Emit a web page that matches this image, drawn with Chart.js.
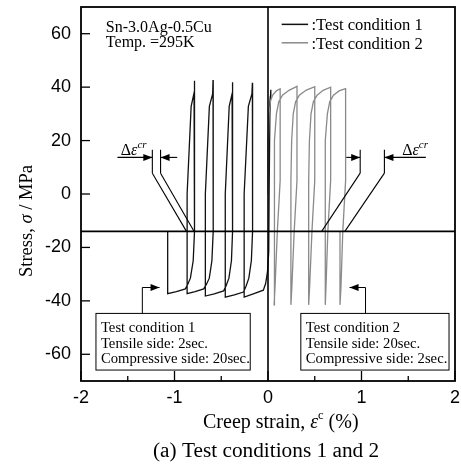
<!DOCTYPE html>
<html>
<head>
<meta charset="utf-8">
<script src="https://cdn.jsdelivr.net/npm/chart.js@4.4.1/dist/chart.umd.min.js"></script>
<style>
  html, body { margin: 0; padding: 0; background: #fff; }
  canvas { display: block; }
</style>
</head>
<body>
<canvas id="creepChart" width="461" height="468"></canvas>
<script>
// axis ticks
const xTicks = [-2, -1.5, -1, -0.5, 0, 0.5, 1, 1.5, 2];
const yTicks = [-60, -40, -20, 0, 20, 40, 60];

// Test condition 1 (tensile 2 s, compressive 20 s): creep strain (%) / stress (MPa)
const cond1Strain = [
  0, 0.004, 0.012, 0.025, 0.03,
  0.02, 0.012, 0.008, -0.005, -0.025, -0.05,
  -0.15, -0.255,
  -0.255, -0.21, -0.172, -0.167,
  -0.165, -0.178, -0.205, -0.235, -0.262,
  -0.36, -0.457,
  -0.457, -0.415, -0.384, -0.38,
  -0.378, -0.391, -0.418, -0.448, -0.475,
  -0.575, -0.67,
  -0.67, -0.627, -0.592, -0.588,
  -0.586, -0.6, -0.628, -0.658, -0.688,
  -0.78, -0.865,
  -0.865, -0.822, -0.791, -0.787,
  -0.785, -0.8, -0.83, -0.858, -0.884,
  -0.98, -1.073,
  -1.073
];
const cond1Stress = [
  0, 20, 31, 36.5, 39,
  30, 0, -21.5, -29, -33.5, -36,
  -37.3, -38.6,
  0, 32.8, 37.5, 41.6,
  -14, -25, -31.5, -34.5, -36.7,
  -37.8, -38.6,
  0, 32.8, 37.5, 41.8,
  -14, -25, -31.5, -34.3, -36.3,
  -37.4, -38.2,
  0, 32.8, 37.5, 42.7,
  -14, -25, -31.5, -33.8, -35.5,
  -36.5, -37.3,
  0, 32.8, 37.8, 42.4,
  -14, -25, -31.5, -33.8, -35.5,
  -36.5, -37.3,
  -14
];

// Test condition 2 (tensile 20 s, compressive 2 s)
const cond2Strain = [
  0, 0.004, 0.012, 0.028, 0.05, 0.09, 0.13,
  0.13, 0.1, 0.075, 0.065,
  0.065, 0.073, 0.09, 0.115, 0.155, 0.225, 0.31,
  0.31, 0.28, 0.255, 0.245,
  0.245, 0.253, 0.27, 0.295, 0.335, 0.41, 0.5,
  0.5, 0.47, 0.445, 0.435,
  0.435, 0.443, 0.46, 0.485, 0.525, 0.59, 0.67,
  0.67, 0.64, 0.62, 0.61,
  0.61, 0.618, 0.635, 0.66, 0.7, 0.76, 0.83,
  0.83, 0.8, 0.78, 0.77,
  0.77
];
const cond2Stress = [
  0, 20, 30, 35, 37, 38.6, 39.4,
  5, -14, -35, -41.5,
  5, 20, 30, 34.5, 37, 38.8, 40.3,
  5, -14, -35, -41.5,
  5, 20, 30, 34.5, 37, 38.9, 40.2,
  5, -14, -35, -41.5,
  5, 20, 30, 34.5, 37, 38.8, 40,
  5, -14, -35, -41.5,
  5, 20, 30, 34.5, 37, 38.6, 39.4,
  5, -14, -35, -41.5,
  -14
];

// reference lines
const refStress = -14;
const refStrain = 0;

const serif = '"Liberation Serif", "Times New Roman", serif';
const sans = '"Liberation Sans", Arial, sans-serif';

function toPoints(xs, ys) {
  return xs.map((x, i) => ({ x: x, y: ys[i] }));
}

function seg(ctx, x1, y1, x2, y2) {
  ctx.beginPath();
  ctx.moveTo(x1, y1);
  ctx.lineTo(x2, y2);
  ctx.stroke();
}

// filled arrow head with its tip at (x, y); dir 1 = pointing right, -1 = left
function head(ctx, x, y, dir) {
  ctx.beginPath();
  ctx.moveTo(x, y);
  ctx.lineTo(x - dir * 9, y - 3.5);
  ctx.lineTo(x - dir * 9, y + 3.5);
  ctx.closePath();
  ctx.fill();
}

// draws a run of [text, font, dy] pieces one after another
function runs(ctx, x, y, parts) {
  let cx = x;
  parts.forEach(([t, f, dy]) => {
    ctx.font = f;
    ctx.fillText(t, cx, y + (dy || 0));
    cx += ctx.measureText(t).width;
  });
}

function deltaLabel(ctx, x, y) {
  runs(ctx, x, y, [
    ['\u0394', '16px ' + serif],
    ['\u03b5', 'italic 16px ' + serif],
    ['cr', 'italic 11px ' + serif, -7]
  ]);
}

const overlay = {
  id: 'overlay',
  afterDatasetsDraw(chart) {
    const { ctx, chartArea: a } = chart;
    const X = v => chart.scales.x.getPixelForValue(v);
    const Y = v => chart.scales.y.getPixelForValue(v);
    ctx.save();
    ctx.strokeStyle = '#000';
    ctx.fillStyle = '#000';
    ctx.textBaseline = 'alphabetic';

    // reference lines
    ctx.lineWidth = 1.6;
    seg(ctx, a.left, Y(refStress), a.right, Y(refStress));
    seg(ctx, X(refStrain), a.top, X(refStrain), a.bottom);

    // frame and inward ticks
    ctx.lineWidth = 1.8;
    ctx.strokeRect(a.left, a.top, a.right - a.left, a.bottom - a.top);
    ctx.lineWidth = 1.3;
    chart.scales.y.ticks.forEach(t => {
      const yy = Y(t.value);
      seg(ctx, a.left, yy, a.left + 9, yy);
    });
    chart.scales.x.ticks.forEach(t => {
      const xx = X(t.value);
      const len = Number.isInteger(t.value) ? 10 : 5;
      seg(ctx, xx, a.bottom, xx, a.bottom - len);
    });

    // alloy and temperature
    ctx.font = '16px ' + serif;
    ctx.fillText('Sn-3.0Ag-0.5Cu', X(-1.734), Y(60.6));
    ctx.fillText('Temp. =295K', X(-1.734), Y(54.9));

    // key
    ctx.lineWidth = 1.5;
    ctx.strokeStyle = '#111';
    seg(ctx, X(0.146), Y(63.5), X(0.429), Y(63.5));
    ctx.strokeStyle = '#8a8a8a';
    seg(ctx, X(0.146), Y(56.6), X(0.429), Y(56.6));
    ctx.strokeStyle = '#000';
    ctx.font = '16.6px ' + serif;
    ctx.fillText(':Test condition 1', X(0.465), Y(61.3));
    ctx.fillText(':Test condition 2', X(0.465), Y(54.4));

    // creep strain increment markers
    ctx.lineWidth = 1.1;
    const marks = [
      { a: -1.237, b: -1.149, ea: -0.872, eb: -0.79, from: -1.61, to: -0.971, label: -1.574 },
      { a: 0.986, b: 1.245, ea: 0.574, eb: 0.822, from: 0.837, to: 1.688, label: 1.436 }
    ];
    marks.forEach(m => {
      seg(ctx, X(m.a), Y(16.6), X(m.a), Y(7.8));
      seg(ctx, X(m.b), Y(16.6), X(m.b), Y(7.8));
      seg(ctx, X(m.a), Y(7.8), X(m.ea), Y(refStress));
      seg(ctx, X(m.b), Y(7.8), X(m.eb), Y(refStress));
      seg(ctx, X(m.from), Y(13.7), X(m.a), Y(13.7));
      head(ctx, X(m.a), Y(13.7), 1);
      seg(ctx, X(m.to), Y(13.7), X(m.b), Y(13.7));
      head(ctx, X(m.b), Y(13.7), -1);
      deltaLabel(ctx, X(m.label), Y(14.5));
    });

    // note boxes with pointers
    const boxes = [
      { x0: -1.84, x1: -0.19, tx: -1.787, stem: -1.344, tip: -1.16, dir: 1,
        lines: ['Test condition 1', 'Tensile side: 2sec.', 'Compressive side: 20sec.'] },
      { x0: 0.351, x1: 1.936, tx: 0.404, stem: 1.043, tip: 0.872, dir: -1,
        lines: ['Test condition 2', 'Tensile side: 20sec.', 'Compressive side: 2sec.'] }
    ];
    boxes.forEach(b => {
      const left = X(b.x0), right = X(b.x1), top = Y(-44.7), bottom = Y(-65.9);
      ctx.fillStyle = '#fff';
      ctx.fillRect(left, top, right - left, bottom - top);
      ctx.fillStyle = '#000';
      ctx.lineWidth = 1;
      ctx.strokeRect(left, top, right - left, bottom - top);
      ctx.font = '14.7px ' + serif;
      [-51.7, -57.6, -63.2].forEach((yy, i) => ctx.fillText(b.lines[i], X(b.tx), Y(yy)));
      seg(ctx, X(b.stem), top, X(b.stem), Y(-35));
      seg(ctx, X(b.stem), Y(-35), X(b.tip), Y(-35));
      head(ctx, X(b.tip), Y(-35), b.dir);
    });

    // axis titles and caption
    runs(ctx, 203, 428, [
      ['Creep strain, ', '20px ' + serif],
      ['\u03b5', 'italic 20px ' + serif],
      ['c', '12.5px ' + serif, -9],
      [' (%)', '20px ' + serif]
    ]);
    ctx.font = '21.3px ' + serif;
    ctx.fillText('(a) Test conditions 1 and 2', 153, 457);

    ctx.translate(31.5, 277);
    ctx.rotate(-Math.PI / 2);
    runs(ctx, 0, 0, [
      ['Stress, ', '18.5px ' + serif],
      ['\u03c3', 'italic 18.5px ' + serif],
      [' / MPa', '18.5px ' + serif]
    ]);
    ctx.restore();
  }
};

new Chart(document.getElementById('creepChart'), {
  type: 'scatter',
  data: {
    datasets: [{
      label: 'Test condition 2',
      data: toPoints(cond2Strain, cond2Stress),
      showLine: true,
      borderColor: '#8a8a8a',
      borderWidth: 1.3,
      pointRadius: 0
    }, {
      label: 'Test condition 1',
      data: toPoints(cond1Strain, cond1Stress),
      showLine: true,
      borderColor: '#111',
      borderWidth: 1.3,
      pointRadius: 0
    }]
  },
  options: {
    responsive: false,
    animation: false,
    layout: { padding: { top: 7, right: 6, left: 0, bottom: 0 } },
    plugins: { legend: { display: false }, tooltip: { enabled: false } },
    scales: {
      x: {
        type: 'linear',
        min: -2,
        max: 2,
        grid: { display: false, drawTicks: false, tickLength: 0 },
        border: { display: false },
        afterBuildTicks: s => { s.ticks = xTicks.map(v => ({ value: v })); },
        afterFit: s => { s.height = 87; s.paddingLeft = 0; s.paddingRight = 0; },
        ticks: {
          padding: 6,
          color: '#000',
          font: { family: sans, size: 18 },
          maxRotation: 0,
          autoSkip: false,
          callback: v => Number.isInteger(v) ? String(v) : ''
        }
      },
      y: {
        min: -70,
        max: 70,
        grid: { display: false, drawTicks: false, tickLength: 0 },
        border: { display: false },
        afterBuildTicks: s => { s.ticks = yTicks.map(v => ({ value: v })); },
        afterFit: s => { s.width = 81; s.paddingTop = 0; s.paddingBottom = 0; },
        ticks: {
          padding: 10,
          color: '#000',
          font: { family: sans, size: 18 },
          callback: v => String(v)
        }
      }
    }
  },
  plugins: [overlay]
});
</script>
</body>
</html>
